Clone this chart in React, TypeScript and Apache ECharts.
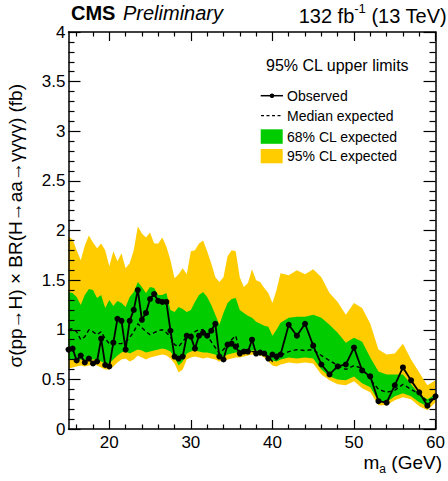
import React, { useEffect, useRef } from "react";
import * as echarts from "echarts";

// ---- data ----
const MASS = [
  15, 15.5, 16, 16.5, 17, 17.5, 18, 18.5, 19, 19.5, 20, 20.5, 21, 21.5, 22, 22.5, 23, 23.5, 24, 24.5,
  25, 25.5, 26, 26.5, 27, 27.5, 28, 28.5, 29, 29.5, 30, 30.5, 31, 31.5, 32, 32.5, 33, 33.5, 34, 34.5,
  35, 35.5, 36, 36.5, 37, 37.5, 38, 38.5, 39, 39.5, 40, 40.5, 41, 42, 43, 44, 45, 46, 47, 48, 49, 50,
  51, 52, 53, 54, 55, 56, 57, 58, 59, 60,
];

const OBSERVED = [
  0.80, 0.81, 0.69, 0.74, 0.67, 0.71, 0.66, 0.68, 0.91, 0.645, 0.63, 0.87, 1.11, 1.09, 0.80, 1.09, 1.20, 1.40, 1.10, 1.17,
  1.31, 1.36, 1.29, 1.28, 1.28, 0.99, 0.73, 0.71, 0.73, 0.94, 0.93, 0.81, 0.94, 0.97, 0.94, 0.99, 1.06, 0.73, 0.70, 0.85,
  0.86, 0.83, 0.76, 0.78, 0.78, 0.90, 0.76, 0.77, 0.76, 0.71, 0.75, 0.73, 0.75, 1.05, 0.94, 1.06, 0.84, 0.65, 0.55, 0.63, 0.65, 0.82,
  0.59, 0.53, 0.28, 0.265, 0.44, 0.62, 0.49, 0.37, 0.235, 0.33,
];

const MEDIAN = [
  1.00, 1.01, 0.98, 0.90, 0.93, 1.00, 0.98, 0.95, 0.98, 0.91, 0.86, 0.87, 0.86, 0.86, 0.88, 0.92, 0.98, 1.06, 1.02, 0.98,
  0.95, 0.97, 0.99, 1.00, 0.97, 0.93, 0.85, 0.83, 0.88, 0.93, 0.95, 0.98, 1.00, 1.00, 0.94, 0.88, 0.82, 0.76, 0.80, 0.86,
  0.90, 0.94, 0.78, 0.80, 0.79, 0.78, 0.78, 0.77, 0.76, 0.73, 0.68, 0.70, 0.74, 0.78, 0.80, 0.79, 0.80, 0.74, 0.69, 0.64, 0.60, 0.64,
  0.61, 0.50, 0.40, 0.37, 0.39, 0.45, 0.40, 0.35, 0.28, 0.32,
];

const G68_HI = [
  1.38, 1.37, 1.33, 1.25, 1.35, 1.41, 1.40, 1.32, 1.35, 1.22, 1.30, 1.24, 1.29, 1.27, 1.23, 1.33, 1.38, 1.48, 1.43, 1.37,
  1.43, 1.42, 1.35, 1.35, 1.37, 1.20, 1.18, 1.23, 1.21, 1.18, 1.20, 1.28, 1.35, 1.38, 1.33, 1.25, 1.15, 1.05, 1.17, 1.27,
  1.31, 1.32, 1.20, 1.17, 1.14, 1.12, 1.08, 1.06, 1.04, 1.03, 0.94, 1.00, 1.07, 1.12, 1.13, 1.13, 1.15, 1.12, 1.05, 0.97, 0.87, 0.92,
  0.88, 0.72, 0.58, 0.55, 0.55, 0.55, 0.45, 0.35, 0.30, 0.35,
];

const G68_LO = [
  0.70, 0.70, 0.68, 0.70, 0.69, 0.70, 0.70, 0.70, 0.68, 0.66, 0.66, 0.70, 0.74, 0.77, 0.78, 0.76, 0.78, 0.80, 0.79, 0.77,
  0.78, 0.79, 0.80, 0.81, 0.80, 0.78, 0.72, 0.64, 0.68, 0.76, 0.78, 0.79, 0.78, 0.77, 0.77, 0.76, 0.75, 0.72, 0.73, 0.75,
  0.76, 0.77, 0.77, 0.77, 0.78, 0.79, 0.79, 0.78, 0.76, 0.73, 0.69, 0.68, 0.70, 0.72, 0.71, 0.72, 0.71, 0.60, 0.53, 0.50, 0.49, 0.53,
  0.46, 0.42, 0.28, 0.27, 0.33, 0.36, 0.33, 0.27, 0.23, 0.32,
];

const Y95_HI = [
  1.94, 1.91, 1.80, 1.70, 1.85, 1.95, 1.88, 1.82, 1.87, 1.80, 1.64, 1.79, 1.69, 1.77, 1.62, 1.67, 1.80, 2.04, 1.97, 1.93,
  1.98, 1.87, 1.87, 1.93, 1.84, 1.70, 1.52, 1.56, 1.62, 1.56, 1.79, 1.80, 1.87, 1.90, 1.79, 1.67, 1.53, 1.48, 1.53, 1.74,
  1.80, 1.79, 1.53, 1.43, 1.47, 1.61, 1.50, 1.48, 1.42, 1.37, 1.27, 1.40, 1.57, 1.55, 1.60, 1.56, 1.61, 1.53, 1.37, 1.28, 1.15, 1.27,
  1.22, 1.06, 0.80, 0.75, 0.76, 0.86, 0.70, 0.57, 0.44, 0.49,
];

const Y95_LO = [
  0.61, 0.62, 0.63, 0.64, 0.63, 0.64, 0.65, 0.64, 0.62, 0.60, 0.60, 0.63, 0.67, 0.70, 0.71, 0.68, 0.70, 0.74, 0.72, 0.70,
  0.72, 0.73, 0.74, 0.75, 0.74, 0.71, 0.66, 0.57, 0.60, 0.70, 0.72, 0.73, 0.72, 0.71, 0.72, 0.71, 0.70, 0.68, 0.69, 0.70,
  0.71, 0.72, 0.72, 0.73, 0.74, 0.75, 0.75, 0.74, 0.72, 0.68, 0.64, 0.63, 0.65, 0.67, 0.66, 0.67, 0.66, 0.55, 0.49, 0.45, 0.44, 0.48,
  0.41, 0.37, 0.24, 0.24, 0.29, 0.32, 0.30, 0.23, 0.19, 0.27,
];

const X_MAJOR = [20, 30, 40, 50, 60];
const X_MINOR = [16, 18, 22, 24, 26, 28, 32, 34, 36, 38, 42, 44, 46, 48, 52, 54, 56, 58];

const FONT = "'Liberation Sans', Arial, Helvetica, sans-serif";
const GREEN = "#00cc00";
const YELLOW = "#ffcc00";

export default function App() {
  const ref = useRef<HTMLDivElement>(null);

  useEffect(() => {
    if (!ref.current) return;
    const chart = echarts.init(ref.current, null, { renderer: "svg" });

    const pts = (ys: number[]) => MASS.map((m, i) => [m, ys[i]]);

    // band drawn as one polygon, with every vertex mapped through the axes (api.coord)
    const bandSeries = (name: string, hi: number[], lo: number[], color: string, z: number) => ({
      type: "custom",
      name,
      silent: true,
      z,
      xAxisIndex: 0,
      yAxisIndex: 0,
      clip: true,
      data: [[MASS[0], lo[0]]],
      renderItem: (_params: any, api: any) => {
        const upper = MASS.map((m, i) => api.coord([m, hi[i]]));
        const lower = MASS.map((m, i) => api.coord([m, lo[i]])).reverse();
        return {
          type: "polygon",
          shape: { points: upper.concat(lower) },
          style: { fill: color, stroke: "none" },
        };
      },
    });

    const xBase = {
      type: "value",
      min: 15,
      max: 60,
      z: 10,
      gridIndex: 0,
      splitLine: { show: false },
      minorSplitLine: { show: false },
    };

    const tickStyle = { color: "#000", width: 1.2 };

    const option: any = {
      animation: false,
      backgroundColor: "#fff",
      textStyle: { fontFamily: FONT },
      grid: { left: 68.5, right: 6.3, top: 32, bottom: 52, containLabel: false },
      xAxis: [
        {
          ...xBase,
          position: "bottom",
          axisLine: { show: true, onZero: false, lineStyle: { color: "#000", width: 1.5 } },
          axisTick: { show: true, inside: true, length: 9, customValues: X_MAJOR, lineStyle: tickStyle },
          axisLabel: { show: true, customValues: X_MAJOR, color: "#000", fontSize: 17, fontFamily: FONT, margin: 5 },
        },
        {
          ...xBase,
          position: "bottom",
          axisLine: { show: false, onZero: false },
          axisTick: { show: true, inside: true, length: 4.5, customValues: X_MINOR, lineStyle: tickStyle },
          axisLabel: { show: false },
        },
        {
          ...xBase,
          position: "top",
          axisLine: { show: true, onZero: false, lineStyle: { color: "#000", width: 1.5 } },
          axisTick: { show: true, inside: true, length: 9, customValues: X_MAJOR, lineStyle: tickStyle },
          axisLabel: { show: false },
        },
        {
          ...xBase,
          position: "top",
          axisLine: { show: false, onZero: false },
          axisTick: { show: true, inside: true, length: 4.5, customValues: X_MINOR, lineStyle: tickStyle },
          axisLabel: { show: false },
        },
      ],
      yAxis: [
        {
          type: "value",
          min: 0,
          max: 4,
          interval: 0.5,
          position: "left",
          z: 10,
          splitLine: { show: false },
          minorSplitLine: { show: false },
          axisLine: { show: true, onZero: false, lineStyle: { color: "#000", width: 1.5 } },
          axisTick: { show: true, inside: true, length: 12, lineStyle: tickStyle },
          minorTick: { show: true, splitNumber: 5, length: 6, lineStyle: tickStyle },
          axisLabel: { color: "#000", fontSize: 17, fontFamily: FONT, margin: 3 },
        },
        {
          type: "value",
          min: 0,
          max: 4,
          interval: 0.5,
          position: "right",
          z: 10,
          splitLine: { show: false },
          minorSplitLine: { show: false },
          axisLine: { show: true, onZero: false, lineStyle: { color: "#000", width: 1.5 } },
          axisTick: { show: true, inside: true, length: 12, lineStyle: tickStyle },
          minorTick: { show: true, splitNumber: 5, length: 6, lineStyle: tickStyle },
          axisLabel: { show: false },
        },
      ],
      series: [
        bandSeries("95% CL expected", Y95_HI, Y95_LO, YELLOW, 1),
        bandSeries("68% CL expected", G68_HI, G68_LO, GREEN, 2),
        {
          type: "line",
          name: "Median expected",
          data: pts(MEDIAN),
          symbol: "none",
          silent: true,
          lineStyle: { color: "#000", width: 1.4, type: [4, 3] },
          emphasis: { disabled: true },
          z: 4,
        },
        {
          type: "line",
          name: "Observed",
          data: pts(OBSERVED),
          symbol: "circle",
          symbolSize: 6,
          silent: true,
          itemStyle: { color: "#000" },
          lineStyle: { color: "#000", width: 1.8 },
          emphasis: { disabled: true },
          z: 5,
        },
      ],
      graphic: [
        // header
        {
          type: "text",
          left: 71,
          top: 3,
          style: { text: "CMS", font: `bold 20px ${FONT}`, fill: "#000" },
        },
        {
          type: "text",
          left: 123,
          top: 3,
          style: { text: "Preliminary", font: `italic 20px ${FONT}`, fill: "#000" },
        },
        {
          type: "text",
          right: 1,
          top: 0,
          style: {
            text: "{a|132 fb}{s|-1}{a| (13 TeV)}",
            fill: "#000",
            rich: {
              a: { fontSize: 20, fontFamily: FONT, lineHeight: 26, verticalAlign: "bottom", fill: "#000" },
              s: { fontSize: 13, fontFamily: FONT, lineHeight: 26, verticalAlign: "top", padding: [2, 0, 0, 0], fill: "#000" },
            },
          },
        },
        // y axis title
        {
          type: "text",
          x: 15,
          y: 84,
          rotation: Math.PI / 2,
          style: {
            text: "σ(pp→H) × BR(H→aa→γγγγ) (fb)",
            font: `19px ${FONT}`,
            fill: "#000",
            align: "right",
            textAlign: "right",
            verticalAlign: "middle",
            textVerticalAlign: "middle",
          },
        },
        // x axis title
        {
          type: "text",
          right: 6,
          top: 453,
          style: {
            text: "{a|m}{s|a}{a| (GeV)}",
            fill: "#000",
            rich: {
              a: { fontSize: 19, fontFamily: FONT, lineHeight: 22, verticalAlign: "top", fill: "#000" },
              s: { fontSize: 12, fontFamily: FONT, lineHeight: 22, verticalAlign: "bottom", fill: "#000" },
            },
          },
        },
        // legend
        {
          type: "text",
          x: 266,
          y: 65,
          style: {
            text: "95% CL upper limits",
            font: `16px ${FONT}`,
            fill: "#000",
            verticalAlign: "middle",
            textVerticalAlign: "middle",
          },
        },
        {
          type: "line",
          shape: { x1: 260.7, y1: 95.7, x2: 283, y2: 95.7 },
          style: { stroke: "#000", lineWidth: 1.5 },
        },
        { type: "circle", shape: { cx: 272, cy: 95.7, r: 2.3 }, style: { fill: "#000" } },
        {
          type: "text",
          x: 287,
          y: 95.7,
          style: { text: "Observed", font: `14px ${FONT}`, fill: "#000", verticalAlign: "middle", textVerticalAlign: "middle" },
        },
        {
          type: "line",
          shape: { x1: 261, y1: 115.7, x2: 283, y2: 115.7 },
          style: { stroke: "#000", lineWidth: 1.3, lineDash: [3, 2.5] },
        },
        {
          type: "text",
          x: 287,
          y: 115.7,
          style: { text: "Median expected", font: `14px ${FONT}`, fill: "#000", verticalAlign: "middle", textVerticalAlign: "middle" },
        },
        { type: "rect", shape: { x: 260.7, y: 129.3, width: 22, height: 14.5 }, style: { fill: GREEN } },
        {
          type: "text",
          x: 287,
          y: 136.5,
          style: { text: "68% CL expected", font: `14px ${FONT}`, fill: "#000", verticalAlign: "middle", textVerticalAlign: "middle" },
        },
        { type: "rect", shape: { x: 260.7, y: 149, width: 22, height: 14.3 }, style: { fill: YELLOW } },
        {
          type: "text",
          x: 287,
          y: 156,
          style: { text: "95% CL expected", font: `14px ${FONT}`, fill: "#000", verticalAlign: "middle", textVerticalAlign: "middle" },
        },
      ],
    };

    chart.setOption(option);
    return () => chart.dispose();
  }, []);

  return (
    <div
      ref={ref}
      style={{ position: "fixed", left: 0, top: 0, width: 448, height: 481, background: "#fff" }}
    />
  );
}
